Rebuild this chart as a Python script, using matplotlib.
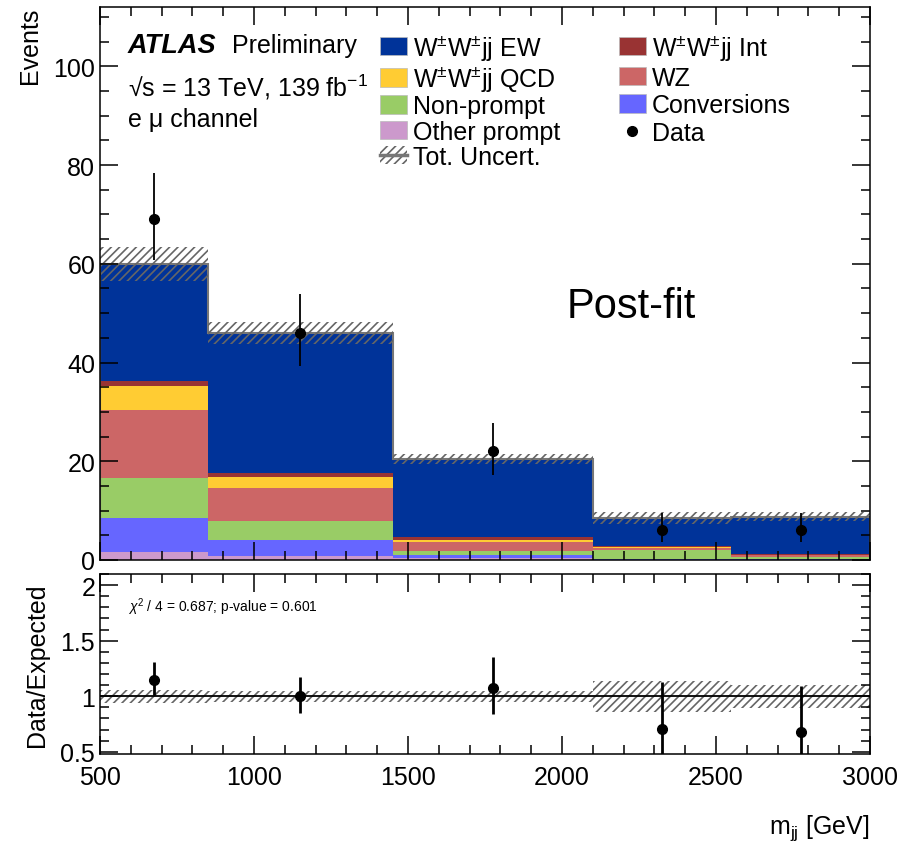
import numpy as np
import matplotlib
matplotlib.use("Agg")
import matplotlib.pyplot as plt
from matplotlib.patches import Patch
from matplotlib.lines import Line2D
from matplotlib.ticker import MultipleLocator

plt.rcParams['font.family'] = ['Liberation Sans', 'DejaVu Sans']
plt.rcParams['mathtext.fontset'] = 'custom'
plt.rcParams['mathtext.rm'] = 'Liberation Sans'
plt.rcParams['mathtext.it'] = 'Liberation Sans:italic'
plt.rcParams['hatch.linewidth'] = 1.2

# bin edges in m_jj [GeV]
edges = np.array([500, 850, 1450, 2100, 2550, 3000])

# post-fit yields per bin (stack order: bottom -> top)
other_prompt = [1.6, 0.75, 0.5, 0.1, 0.1]
conversions  = [7.0, 3.3, 0.55, 0.1, 0.2]
non_prompt   = [8.0, 3.85, 0.85, 1.8, 0.3]
wz           = [13.8, 6.6, 1.7, 0.5, 0.4]
ww_qcd       = [4.9, 2.4, 0.5, 0.2, 0.1]
ww_int       = [0.9, 0.8, 0.5, 0.2, 0.2]
ww_ew        = [23.8, 28.3, 15.9, 5.6, 7.5]

# total uncertainty (absolute) on the prediction
tot_unc = [3.4, 2.3, 1.0, 1.2, 0.9]

# data and its asymmetric errors
data = [69, 46, 22, 6, 6]
data_err_lo = [8.3, 6.8, 4.7, 2.4, 2.4]
data_err_hi = [9.3, 7.8, 5.8, 3.6, 3.6]

samples = [
    ("Other prompt", other_prompt, "#cc99cc"),
    ("Conversions", conversions, "#6666ff"),
    ("Non-prompt", non_prompt, "#99cc66"),
    ("WZ", wz, "#cc6666"),
    (r"W$^{\pm}$W$^{\pm}$jj QCD", ww_qcd, "#ffcc33"),
    (r"W$^{\pm}$W$^{\pm}$jj Int", ww_int, "#993333"),
    (r"W$^{\pm}$W$^{\pm}$jj EW", ww_ew, "#003399"),
]

centers = 0.5 * (edges[:-1] + edges[1:])
widths = np.diff(edges)

fig = plt.figure(figsize=(9.02, 8.45), dpi=100)
ax = fig.add_axes([0.1109, 0.3361, 0.8537, 0.6544])
axr = fig.add_axes([0.1109, 0.1065, 0.8537, 0.2130])

# stacked histogram
bottom = np.zeros(len(centers))
handles = {}
for name, vals, col in samples:
    vals = np.array(vals)
    ax.bar(edges[:-1], vals, width=widths, bottom=bottom, align='edge',
           color=col, linewidth=0)
    handles[name] = Patch(facecolor=col, edgecolor='#bbbbbb', linewidth=0.5)
    bottom += vals
total = bottom

ax.stairs(total, edges, color='#777777', linewidth=1.5)

unc = np.array(tot_unc)
ax.bar(edges[:-1], 2 * unc, width=widths, bottom=total - unc, align='edge',
       fill=False, hatch='////', edgecolor='#666666', linewidth=0)

ax.errorbar(centers, data, yerr=[data_err_lo, data_err_hi], fmt='o',
            color='black', markersize=7, elinewidth=1.3, capsize=0)

ax.set_xlim(500, 3000)
ax.set_ylim(0, 112)
ax.xaxis.set_major_locator(MultipleLocator(500))
ax.xaxis.set_minor_locator(MultipleLocator(100))
ax.yaxis.set_major_locator(MultipleLocator(20))
ax.yaxis.set_minor_locator(MultipleLocator(5))
ax.tick_params(labelbottom=False)
ax.set_ylabel("Events", fontsize=18, loc='top', labelpad=8)

# text
ax.text(0.036, 0.931, "ATLAS", transform=ax.transAxes, fontsize=19.5,
        fontweight='bold', style='italic', va='center')
ax.text(0.172, 0.931, "Preliminary", transform=ax.transAxes, fontsize=18,
        va='center')
ax.text(0.036, 0.857, "\u221as = 13 TeV, 139 fb$^{-1}$",
        transform=ax.transAxes, fontsize=18, va='center')
ax.text(0.036, 0.797, "e \u03bc channel", transform=ax.transAxes,
        fontsize=18, va='center')
ax.text(0.606, 0.46, "Post-fit", transform=ax.transAxes, fontsize=30,
        va='center')

# legends
unc_handle = (Patch(facecolor='none', edgecolor='#666666', hatch='////',
                    linewidth=0),
              Line2D([], [], color='#777777', linewidth=2.5))
data_handle = Line2D([], [], marker='o', color='black', linestyle='none',
                     markersize=7)
col1 = [r"W$^{\pm}$W$^{\pm}$jj EW", r"W$^{\pm}$W$^{\pm}$jj QCD",
        "Non-prompt", "Other prompt"]
col2 = [r"W$^{\pm}$W$^{\pm}$jj Int", "WZ", "Conversions"]
leg_kw = dict(frameon=False, fontsize=18, handlelength=1.07,
              handleheight=0.76, handletextpad=0.25,
              borderpad=0, borderaxespad=0, loc='upper left')
leg1 = ax.legend([handles[n] for n in col1] + [unc_handle],
                 col1 + ["Tot. Uncert."], bbox_to_anchor=(0.3636, 0.955),
                 labelspacing=0.05, **leg_kw)
ax.add_artist(leg1)
ax.legend([handles[n] for n in col2] + [data_handle],
          col2 + ["Data"], bbox_to_anchor=(0.674, 0.955),
          labelspacing=0.15, **leg_kw)

# ratio panel
ratio = np.array(data) / total
r_lo = np.array(data_err_lo) / total
r_hi = np.array(data_err_hi) / total
rel_unc = unc / total
axr.bar(edges[:-1], 2 * rel_unc, width=widths, bottom=1 - rel_unc,
        align='edge', fill=False, hatch='////', edgecolor='#666666',
        linewidth=0)
axr.axhline(1, color='black', linewidth=1.3)
axr.errorbar(centers, ratio, yerr=[r_lo, r_hi], fmt='o', color='black',
             markersize=7, elinewidth=2, capsize=0)
axr.set_xlim(500, 3000)
axr.set_ylim(0.48, 2.1)
axr.xaxis.set_major_locator(MultipleLocator(500))
axr.xaxis.set_minor_locator(MultipleLocator(100))
axr.yaxis.set_minor_locator(MultipleLocator(0.1))
axr.set_yticks([0.5, 1, 1.5, 2])
axr.set_yticklabels(["0.5", "1", "1.5", "2"])
axr.set_ylabel("Data/Expected", fontsize=18, labelpad=8)
axr.set_xlabel(r"m$_{\mathrm{jj}}$ [GeV]", fontsize=18, loc='right',
               labelpad=17)
axr.text(0.036, 0.82, r"$\chi^{2}$ / 4 = 0.687; p-value = 0.601",
         transform=axr.transAxes, fontsize=10, va='center')

for a in (ax, axr):
    a.tick_params(which='both', direction='in', top=True, right=True,
                  labelsize=18, width=1.1)
    a.tick_params(which='major', length=13)
    a.tick_params(which='minor', length=6.5)
    for s in a.spines.values():
        s.set_linewidth(1.1)
axr.tick_params(axis='x', pad=8)

fig.savefig("out.png", dpi=100)
